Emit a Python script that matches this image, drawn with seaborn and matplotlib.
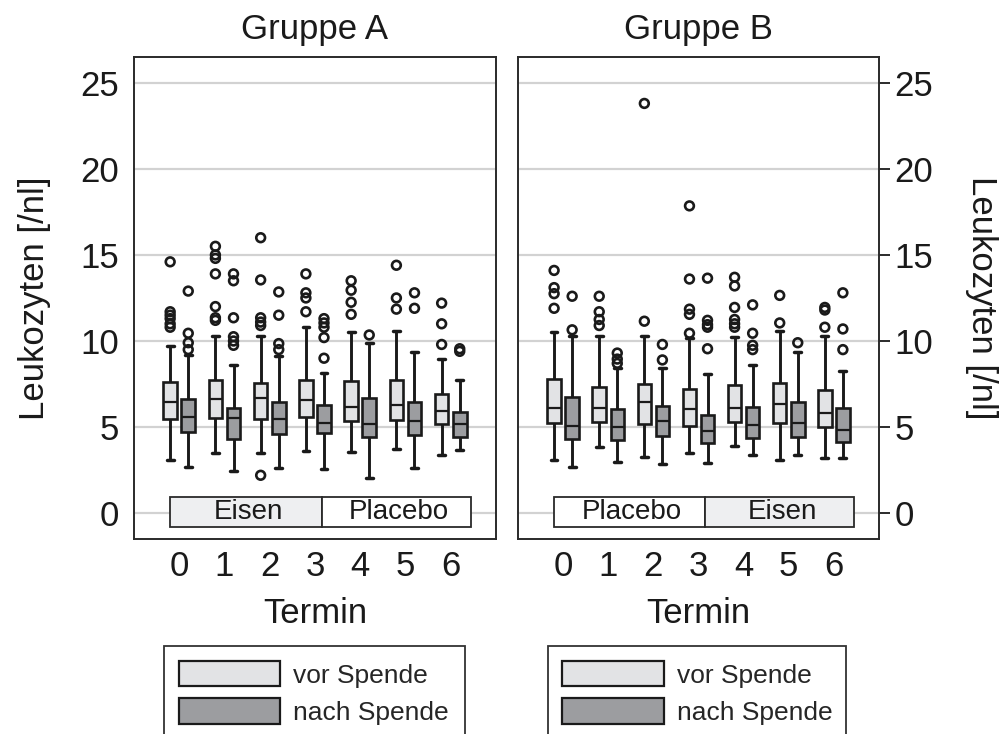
import pandas as pd
import seaborn as sns
import matplotlib
matplotlib.use('Agg')  # no display
import matplotlib.pyplot as plt
from matplotlib.patches import Patch, Rectangle

# Termine und Zeitpunkte
termine = [0, 1, 2, 3, 4, 5, 6]
zeitpunkte = ['vor Spende', 'nach Spende']
farben = ['#e2e3e5', '#9c9da0']

# Fuenf-Punkte-Zusammenfassung je Termin: (unterer Whisker, Q1, Median, Q3, oberer Whisker)
a_vor = [(3.10, 5.47, 6.47, 7.60, 9.73), (3.47, 5.50, 6.61, 7.75, 10.30),
         (3.47, 5.47, 6.67, 7.54, 10.30), (3.62, 5.60, 6.60, 7.75, 10.80),
         (3.57, 5.35, 6.18, 7.70, 10.50), (3.72, 5.40, 6.30, 7.75, 10.56),
         (3.39, 5.19, 5.95, 6.92, 8.95)]
a_nach = [(2.70, 4.73, 5.60, 6.63, 9.20), (2.44, 4.30, 5.50, 6.08, 8.60),
          (2.64, 4.57, 5.47, 6.47, 9.10), (2.56, 4.63, 5.21, 6.28, 8.14),
          (2.05, 4.44, 5.19, 6.67, 9.88), (2.60, 4.53, 5.37, 6.47, 9.38),
          (3.64, 4.40, 5.17, 5.89, 7.73)]
b_vor = [(3.10, 5.21, 6.10, 7.79, 10.50), (3.82, 5.31, 6.10, 7.35, 10.27),
         (3.29, 5.17, 6.43, 7.50, 10.27), (3.49, 5.04, 6.05, 7.20, 10.20),
         (3.88, 5.31, 6.10, 7.46, 10.21), (3.10, 5.23, 6.34, 7.56, 10.56),
         (3.22, 4.98, 5.79, 7.17, 10.27)]
b_nach = [(2.71, 4.30, 5.08, 6.76, 10.30), (2.98, 4.26, 4.98, 6.05, 8.43),
          (2.85, 4.50, 5.33, 6.20, 8.43), (2.91, 4.05, 4.79, 5.72, 8.08),
          (3.37, 4.34, 5.12, 6.14, 8.62), (3.39, 4.44, 5.21, 6.47, 9.38),
          (3.20, 4.15, 4.83, 6.09, 8.24)]

# Ausreisser je Termin
a_vor_out = [[14.6, 11.7, 11.5, 11.3, 11.0, 10.8], [15.5, 15.0, 14.8, 13.9, 12.0, 11.35, 11.2],
             [16.0, 13.55, 11.35, 11.1, 10.9, 2.2], [13.9, 12.8, 12.5, 11.7],
             [13.5, 12.95, 12.25, 11.55], [14.4, 12.5, 11.85], [12.2, 11.0, 9.8]]
a_nach_out = [[12.9, 10.45, 9.9, 9.5], [13.9, 13.5, 11.35, 10.25, 10.0, 9.75],
              [12.85, 11.5, 9.85, 9.5], [11.3, 11.05, 10.8, 10.2, 9.0],
              [10.35], [12.8, 11.9], [9.55, 9.4]]
b_vor_out = [[14.1, 13.1, 12.75, 11.9], [12.6, 11.7, 11.25, 10.9], [23.8, 11.15],
             [17.85, 13.6, 11.85, 11.55, 10.45], [13.7, 13.2, 11.95, 11.25, 11.0, 10.8],
             [12.65, 11.05], [11.95, 11.8, 10.8]]
b_nach_out = [[12.6, 10.65], [9.3, 8.95, 8.7], [9.8, 8.9], [13.65, 11.2, 10.95, 10.8, 9.55],
              [12.1, 10.45, 9.75, 9.5], [9.9], [12.8, 10.7, 9.5]]

# Behandlungsphasen (Balken unten im Panel)
phasen_a = ['Eisen', 'Placebo']
phasen_b = ['Placebo', 'Eisen']
phasen_grenzen = [-0.2, 3.15, 6.45]
phasen_farbe = {'Eisen': '#eeeff1', 'Placebo': 'white'}

EDGE = '#1a1a1a'

sns.set_style('white')
plt.rcParams['font.family'] = ['Liberation Sans', 'DejaVu Sans']


def to_long(vor, nach):
    rows = []
    for zp, series in zip(zeitpunkte, [vor, nach]):
        for t, werte in zip(termine, series):
            for v in werte:
                rows.append({'Termin': t, 'Zeitpunkt': zp, 'Leukozyten': v})
    return pd.DataFrame(rows)


def draw_panel(ax, vor, nach, vor_out, nach_out, phasen, titel):
    box_df = to_long(vor, nach)
    out_df = to_long(vor_out, nach_out)

    sns.boxplot(data=box_df, x='Termin', y='Leukozyten', hue='Zeitpunkt',
                order=termine, hue_order=zeitpunkte, palette=farben, saturation=1,
                whis=(0, 100), showfliers=False, width=0.8, gap=0.25,
                linecolor=EDGE, linewidth=1.9, legend=False, ax=ax,
                capprops=dict(linewidth=2.5), whiskerprops=dict(linewidth=2.1),
                medianprops=dict(linewidth=1.6))

    n_before = len(ax.collections)
    sns.stripplot(data=out_df, x='Termin', y='Leukozyten', hue='Zeitpunkt',
                  order=termine, hue_order=zeitpunkte, palette=['white', 'white'],
                  dodge=True, jitter=False, size=6.3, edgecolor=EDGE, linewidth=1.9,
                  legend=False, ax=ax)
    for coll in ax.collections[n_before:]:
        coll.set_facecolor('none')
        coll.set_zorder(4)

    # Phasenbalken
    for name, x0, x1 in zip(phasen, phasen_grenzen[:-1], phasen_grenzen[1:]):
        ax.add_patch(Rectangle((x0, -0.8), x1 - x0, 1.72, facecolor=phasen_farbe[name],
                               edgecolor='#2a2a2a', linewidth=1.3, zorder=3))
        ax.text((x0 + x1) / 2 + 0.05, 0.05, name, ha='center', va='center', fontsize=20,
                color='#1a1a1a', zorder=4)

    ax.set_xlim(-1, 7)
    ax.set_ylim(-1.5, 26.5)
    ax.set_yticks([0, 5, 10, 15, 20, 25])
    ax.yaxis.grid(True, color='#d2d2d2', linewidth=1.6)
    ax.xaxis.grid(False)
    ax.set_axisbelow(True)
    for s in ax.spines.values():
        s.set_color('#2a2a2a')
        s.set_linewidth(1.4)
    ax.tick_params(axis='x', length=0, pad=8, labelsize=25, colors='#1a1a1a')
    ax.tick_params(axis='y', length=8, width=1.3, pad=3, labelsize=25, colors='#1a1a1a')
    ax.set_xlabel('Termin', fontsize=25, labelpad=10, color='#1a1a1a')
    ax.set_title(titel, fontsize=25, pad=13, color='#1a1a1a')


fig = plt.figure(figsize=(10.08, 7.34), dpi=100)
ax1 = fig.add_axes([0.1329, 0.2657, 0.3591, 0.6567])
ax2 = fig.add_axes([0.5139, 0.2657, 0.3581, 0.6567])

draw_panel(ax1, a_vor, a_nach, a_vor_out, a_nach_out, phasen_a, 'Gruppe A')
draw_panel(ax2, b_vor, b_nach, b_vor_out, b_nach_out, phasen_b, 'Gruppe B')

ax1.set_ylabel('Leukozyten [/nl]', fontsize=25, color='#1a1a1a')
ax1.yaxis.set_label_coords(-0.23, 0.5)

ax2.yaxis.tick_right()
ax2.yaxis.set_label_position('right')
ax2.set_ylabel('Leukozyten [/nl]', fontsize=25, rotation=270, color='#1a1a1a')
ax2.yaxis.label.set_va('top')
ax2.yaxis.set_label_coords(1.33, 0.5)

# Legenden unter den Panels (unterer Rand liegt ausserhalb des Bildes)
handles = [Patch(facecolor=c, edgecolor=EDGE, linewidth=1.6) for c in farben]
leg_opts = dict(loc='upper left', mode='expand', fontsize=19, handlelength=3.85,
                handleheight=1.12, handletextpad=0.5, borderpad=0.55, labelspacing=0.4,
                fancybox=False, framealpha=1, edgecolor='#333333', borderaxespad=0,
                bbox_transform=fig.transFigure)
leg1 = ax1.legend(handles, zeitpunkte, bbox_to_anchor=(0.1627, 0.0, 0.2986, 0.1195), **leg_opts)
leg2 = ax2.legend(handles, zeitpunkte, bbox_to_anchor=(0.5433, 0.0, 0.2960, 0.1195), **leg_opts)
for leg in (leg1, leg2):
    leg.get_frame().set_linewidth(1.3)

fig.savefig('out.png', dpi=100)
